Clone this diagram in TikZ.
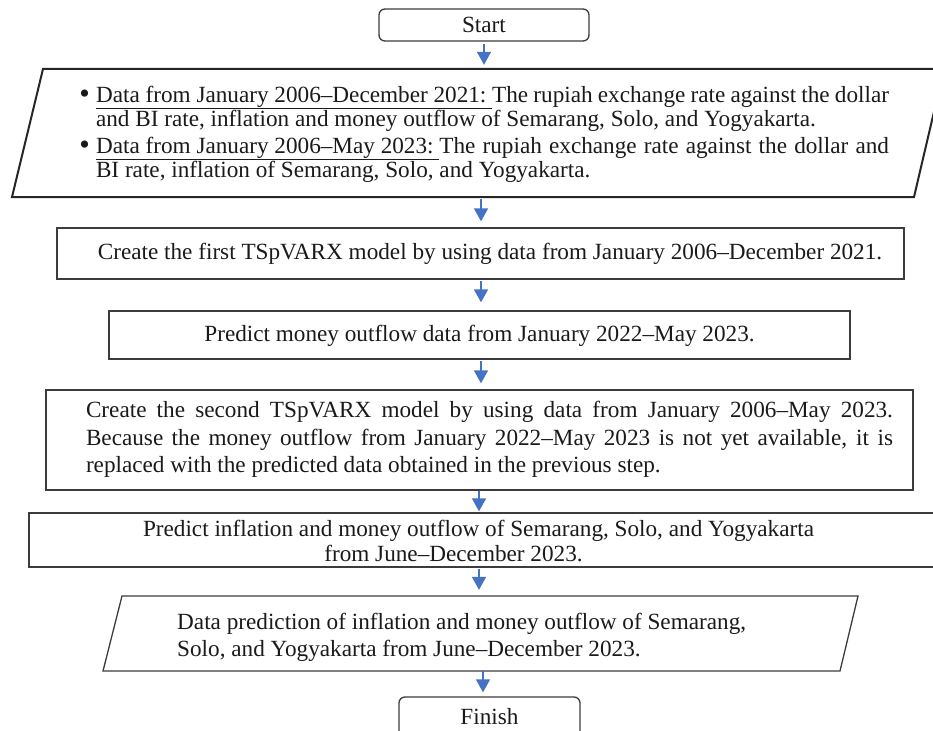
\documentclass[tikz,border=0pt]{standalone}
\usepackage{fontspec}
\setmainfont{Liberation Serif}
\usetikzlibrary{arrows.meta,calc}
\definecolor{arrblue}{HTML}{4472C4}
\definecolor{edgegray}{HTML}{3C3C3C}
\definecolor{txtc}{HTML}{1A1A1A}
\newcommand{\txtA}{\fontsize{23.2}{24}\selectfont}
\newcommand{\txtB}{\fontsize{23.2}{27.5}\selectfont}
\newcommand{\txtC}{\fontsize{23.2}{25}\selectfont}
\newcommand{\txtD}{\fontsize{23.2}{27}\selectfont}
\newcommand{\bigbul}{\llap{\raisebox{-1pt}{\fontsize{30}{24}\selectfont\textbullet}\hspace{6pt}}}
\begin{document}
\begin{tikzpicture}[x=1pt,y=-1pt,
  box/.style={draw=edgegray, line width=1.3pt, inner sep=0pt},
  term/.style={box, rounded corners=6pt},
  ghost/.style={inner sep=0pt},
  arr/.style={draw=arrblue, line width=1.4pt, -{Triangle[width=14pt,length=13pt]}},
  lbl/.style={inner sep=0pt, text=txtc}]
\useasboundingbox (0,0) rectangle (933,730);
\clip (0,0) rectangle (933,730);

% x positions of the connectors
\coordinate (ax1) at (484,0);
\coordinate (ax2) at (481,0);
\coordinate (ax5) at (479,0);
\coordinate (ax7) at (483,0);

% Start
\node[term, minimum width=210pt, minimum height=32pt, font=\txtA, text=txtc] (start) at (484,25) {Start};

% Input parallelogram 1
\draw[draw=black!85, line width=2pt] (43,69) -- (944,69) -- (914,197) -- (12,197) -- cycle;
\node[ghost, minimum width=870pt, minimum height=128pt] (par1) at (478,133) {};
\node[lbl, text width=793pt, align=justify, font=\txtA] (par1t) at (492.5,134) {%
\noindent\bigbul\underline{Data from January 2006–December 2021:\ }The rupiah exchange rate against the dollar\linebreak and BI rate, inflation and money outflow of Semarang, Solo, and Yogyakarta.\par\vspace{3pt}
\noindent\bigbul\underline{Data from January 2006–May 2023:\ }The rupiah exchange rate against the dollar and\linebreak BI rate, inflation of Semarang, Solo, and Yogyakarta.};

% Box 2
\node[box, minimum width=847pt, minimum height=51pt] (b2) at (480.5,253.5) {};
\node[lbl, font=\txtA] (b2t) at (490,254) {Create the first TSpVARX model by using data from January 2006–December 2021.};

% Box 3
\node[box, minimum width=741pt, minimum height=48pt] (b3) at (479.5,335) {};
\node[lbl, font=\txtA] (b3t) at (479.5,336) {Predict money outflow data from January 2022–May 2023.};

% Box 4
\node[box, minimum width=867pt, minimum height=100pt] (b4) at (479.5,440) {};
\node[lbl, text width=807pt, align=justify, font=\txtB] (b4t) at (489.5,439.5) {%
Create the second TSpVARX model by using data from January 2006–May 2023.\linebreak Because the money outflow from January 2022–May 2023 is not yet available, it is\linebreak replaced with the predicted data obtained in the previous step.};

% Box 5
\node[box, minimum width=921pt, minimum height=54pt] (b5) at (489.5,540) {};
\node[lbl, align=center, font=\txtC] (b5t) at (478.5,541) {Predict inflation and money outflow of Semarang, Solo, and Yogyakarta\\from June–December 2023.\hspace*{50pt}};

% Output parallelogram 2
\draw[draw=edgegray, line width=1.3pt] (122,596) -- (858,596) -- (840,671) -- (103,671) -- cycle;
\node[ghost, minimum width=740pt, minimum height=75pt] (par2) at (480.5,633.5) {};
\node[lbl, align=left, font=\txtD, anchor=west] (par2t) at (177,637.5) {Data prediction of inflation and money outflow of Semarang,\\Solo, and Yogyakarta from June–December 2023.};

% Finish
\node[term, minimum width=181pt, minimum height=44pt] (finish) at (489.5,719) {};
\node[lbl, font=\txtA, anchor=base] (finisht) at (489.5,724) {Finish};

% Connectors
\draw[arr, shorten <=2pt, shorten >=4pt] (start.south -| ax1) -- (par1.north -| ax1);
\draw[arr, shorten <=2pt, shorten >=6pt] (par1.south -| ax2) -- (b2.north -| ax2);
\draw[arr, shorten <=1pt, shorten >=8pt] (b2.south -| ax2) -- (b3.north -| ax2);
\draw[arr, shorten <=1pt, shorten >=6pt] (b3.south -| ax2) -- (b4.north -| ax2);
\draw[arr, shorten <=0pt, shorten >=1pt] (b4.south -| ax5) -- (b5.north -| ax5);
\draw[arr, shorten <=1pt, shorten >=6pt] (b5.south -| ax5) -- (par2.north -| ax5);
\draw[arr, shorten <=0pt, shorten >=4pt] (par2.south -| ax7) -- (finish.north -| ax7);
\end{tikzpicture}
\end{document}
